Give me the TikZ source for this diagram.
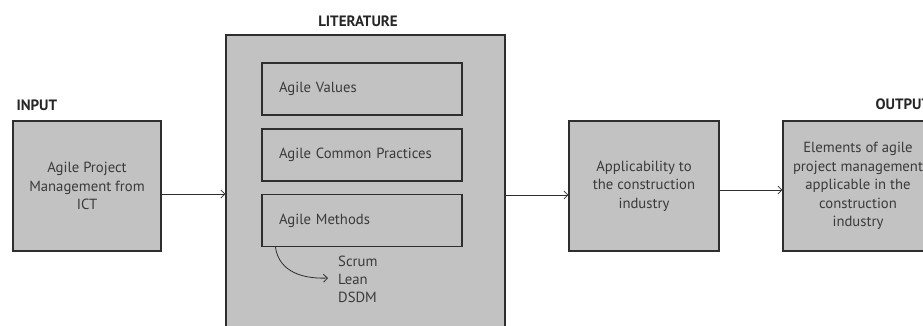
\documentclass[tikz,border=0pt]{standalone}
\usepackage{fontspec}
\setmainfont{PT Sans}
\usetikzlibrary{arrows.meta}
\definecolor{boxgray}{HTML}{C2C2C2}
\definecolor{ink}{HTML}{3A3A3A}
\definecolor{edge}{HTML}{2E2E2E}
\begin{document}
\begin{tikzpicture}[x=1pt,y=-1pt,
  font=\fontsize{14.7}{18.5}\selectfont,
  block/.style={draw=edge, line width=1.1pt, fill=boxgray, text=ink,
    minimum width=148pt, minimum height=130pt, align=center, inner sep=0pt},
  item/.style={draw=edge, line width=1.1pt, text=ink,
    minimum width=200pt, minimum height=52pt, text width=166pt,
    align=left, inner xsep=17pt, inner ysep=0pt},
  heading/.style={font=\fontsize{15}{18}\selectfont\bfseries, text=black!85},
  arr/.style={draw=edge, line width=0.8pt, -{Straight Barb[length=4pt,width=8pt]}}]
\useasboundingbox (0,0) rectangle (923,325);
\clip (0,0) rectangle (923,325);

% literature column
\node[heading] (lithead) at (358,21) {LITERATURE};
\node[block, minimum width=279pt, minimum height=310pt] (lit) at (365.5,190) {};
\node[item] (values) at (362,89) {Agile Values};
\node[item] (practices) at (362,155) {Agile Common Practices};
\node[item] (methods) at (362,220.5) {Agile Methods};
\node[text=ink, align=left, anchor=north west, inner sep=0pt,
      font=\fontsize{14.7}{18}\selectfont] (list) at (338,256) {Scrum\\Lean\\DSDM};
\coordinate (mstart) at ([xshift=14pt]methods.south west);
\coordinate (mend) at (328,278);
\draw[arr] (mstart) .. controls (279,273) and (305,279) .. (mend);

% input
\node[heading, anchor=west] (inhead) at (13,105) {INPUT};
\node[block] (in) at (87,186) {Agile Project\\Management from\\ICT};

% applicability
\node[block, minimum width=150pt] (app) at (644,186) {Applicability to\\the construction\\industry};

% output
\node[heading, anchor=west] (outhead) at (872,104) {OUTPUT};
\node[block, minimum width=150pt] (out) at (858,186) {Elements of agile\\project management\\applicable in the\\construction\\industry};

% flow
\coordinate (a1) at (0,194);
\coordinate (a2) at (0,195);
\coordinate (a3) at (0,190);
\draw[arr] (in.east |- a1) -- (lit.west |- a1);
\draw[arr] (lit.east |- a2) -- (app.west |- a2);
\draw[arr] (app.east |- a3) -- (out.west |- a3);
\end{tikzpicture}
\end{document}
